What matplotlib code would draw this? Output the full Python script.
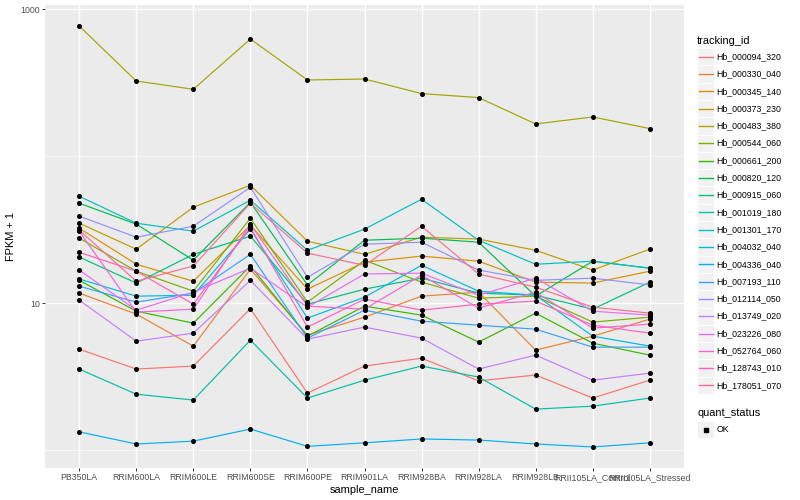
import matplotlib
matplotlib.use("Agg")
import numpy as np
import matplotlib.pyplot as plt
from matplotlib.ticker import FixedLocator, NullFormatter
from matplotlib.patches import Rectangle
from matplotlib.lines import Line2D

plt.rcParams['font.family'] = ['Liberation Sans', 'DejaVu Sans']

sample_names = ["PB350LA", "RRIM600LA", "RRIM600LE", "RRIM600SE", "RRIM600PE",
                "RRIM901LA", "RRIM928BA", "RRIM928LA", "RRIM928LB",
                "RRII105LA_Control", "RRII105LA_Stressed"]

tracking_ids = ["Hb_000094_320", "Hb_000330_040", "Hb_000345_140", "Hb_000373_230",
                "Hb_000483_380", "Hb_000544_060", "Hb_000661_200", "Hb_000820_120",
                "Hb_000915_060", "Hb_001019_180", "Hb_001301_170", "Hb_004032_040",
                "Hb_004336_040", "Hb_007193_110", "Hb_012114_050", "Hb_013749_020",
                "Hb_023226_080", "Hb_052764_060", "Hb_128743_010", "Hb_178051_070"]

colors = ["#F8766D", "#EA8331", "#D89000", "#C09B00", "#A3A500", "#7CAE00", "#39B600",
          "#00BB4E", "#00BF7D", "#00C1A3", "#00BFC4", "#00BAE0", "#00B0F6", "#35A2FF",
          "#9590FF", "#C77CFF", "#E76BF3", "#FA62DB", "#FF62BC", "#FF6C91"]

# FPKM + 1 per tracking id, in sample order
hb_000094_320 = [4.86, 3.56, 3.73, 9.17, 2.44, 3.73, 4.22, 2.96, 3.24, 2.26, 2.99]
hb_000330_040 = [11.7, 8.42, 5.10, 17.0, 6.06, 8.03, 11.16, 11.88, 4.79, 5.96, 7.78]
hb_000345_140 = [32.4, 18.4, 14.1, 33.9, 12.45, 19.0, 20.9, 19.3, 13.9, 13.7, 16.5]
hb_000373_230 = [35.0, 23.3, 45.0, 63.5, 26.4, 21.5, 28.1, 27.3, 22.9, 16.8, 23.3]
hb_000483_380 = [769.6, 325.2, 285.6, 628.0, 330.4, 335.6, 267.0, 250.8, 165.9, 185.1, 154.3]
hb_000544_060 = [27.7, 16.5, 12.07, 37.9, 10.16, 19.6, 13.9, 10.81, 11.16, 7.43, 8.03]
hb_000661_200 = [14.3, 8.82, 7.31, 17.9, 5.96, 9.54, 8.29, 5.43, 8.55, 5.34, 4.43]
hb_000820_120 = [47.9, 34.5, 19.6, 48.6, 13.3, 26.8, 27.7, 26.0, 11.16, 19.3, 17.3]
hb_000915_060 = [20.6, 13.7, 21.5, 28.6, 9.84, 12.45, 14.8, 11.7, 11.33, 9.10, 13.9]
hb_001019_180 = [3.56, 2.40, 2.19, 5.60, 2.26, 2.99, 3.73, 3.14, 1.90, 1.99, 2.26]
hb_001301_170 = [53.4, 35.0, 30.9, 50.2, 22.9, 31.9, 51.0, 26.8, 18.4, 19.3, 17.3]
hb_004032_040 = [14.6, 11.16, 11.33, 31.9, 7.91, 10.98, 18.1, 12.07, 11.33, 5.96, 5.10]
hb_004336_040 = [1.33, 1.10, 1.15, 1.39, 1.06, 1.12, 1.19, 1.17, 1.10, 1.05, 1.12]
hb_007193_110 = [13.05, 10.16, 11.7, 21.5, 5.78, 8.96, 7.54, 7.08, 6.65, 5.02, 5.02]
hb_012114_050 = [39.1, 28.1, 33.4, 61.5, 15.0, 25.2, 26.0, 16.8, 14.3, 14.8, 13.3]
hb_013749_020 = [10.48, 5.51, 6.25, 14.3, 5.69, 6.87, 5.78, 3.56, 4.43, 2.99, 3.34]
hb_023226_080 = [16.8, 8.96, 11.88, 17.3, 9.39, 15.8, 16.0, 11.33, 14.8, 8.82, 8.29]
hb_052764_060 = [30.9, 8.69, 9.10, 34.5, 9.54, 9.10, 15.5, 9.25, 11.88, 6.76, 7.20]
hb_128743_010 = [22.2, 16.5, 9.84, 32.9, 6.87, 10.65, 8.96, 9.84, 10.32, 7.08, 6.25]
hb_178051_070 = [31.4, 14.1, 17.9, 47.9, 21.9, 18.1, 33.4, 15.8, 12.85, 9.39, 8.55]

series = [hb_000094_320, hb_000330_040, hb_000345_140, hb_000373_230, hb_000483_380,
          hb_000544_060, hb_000661_200, hb_000820_120, hb_000915_060, hb_001019_180,
          hb_001301_170, hb_004032_040, hb_004336_040, hb_007193_110, hb_012114_050,
          hb_013749_020, hb_023226_080, hb_052764_060, hb_128743_010, hb_178051_070]

W, H = 800, 500
fig = plt.figure(figsize=(W / 100, H / 100), dpi=100)
fig.patch.set_facecolor("white")
ax = fig.add_axes([45 / W, 32 / H, 639 / W, 463 / H])
ax.set_facecolor("#EBEBEB")
for s in ax.spines.values():
    s.set_visible(False)

x = np.arange(len(sample_names))
for vals, c in zip(series, colors):
    ax.plot(x, vals, color=c, lw=0.85, zorder=3, solid_capstyle="butt")
for vals in series:
    ax.plot(x, vals, ls="none", marker="o", ms=2.6, color="black", zorder=4)

ax.set_yscale("log")
allv = np.concatenate([np.asarray(v) for v in series])
lo, hi = np.log10(allv.min()), np.log10(allv.max())
span = hi - lo
ax.set_ylim(10 ** (lo - 0.05 * span), 10 ** (hi + 0.05 * span))
ax.set_xlim(-0.6, len(sample_names) - 1 + 0.6)

ax.yaxis.set_major_locator(FixedLocator([10, 1000]))
ax.yaxis.set_minor_locator(FixedLocator([1, 100]))
ax.yaxis.set_minor_formatter(NullFormatter())
ax.set_yticks([10, 1000])
ax.set_yticklabels(["10", "1000"])
ax.set_xticks(x)
ax.set_xticklabels(sample_names)

ax.grid(which="major", color="white", lw=1.0, zorder=1)
ax.grid(which="minor", axis="y", color="white", lw=0.5, zorder=1)
ax.set_axisbelow(True)
ax.tick_params(which="major", length=2.0, width=0.7, color="#333333",
               labelsize=6.3, labelcolor="#4D4D4D", pad=1.6)
ax.tick_params(which="minor", length=0)

ax.set_xlabel("sample_name", fontsize=7.9, color="black", labelpad=2)
ax.set_ylabel("FPKM + 1", fontsize=7.9, color="black", labelpad=3)

# legend drawn in pixel space
lax = fig.add_axes([0, 0, 1, 1], zorder=5)
lax.set_xlim(0, W)
lax.set_ylim(H, 0)
lax.axis("off")
lax.patch.set_alpha(0)

lax.text(697, 40.7, "tracking_id", fontsize=7.9, va="center", ha="left")
step = 17.3
y0 = 56.7
for i, (name, c) in enumerate(zip(tracking_ids, colors)):
    yc = y0 + i * step
    lax.add_patch(Rectangle((697, yc - step / 2), step, step, facecolor="#F2F2F2",
                            edgecolor="white", lw=0.7, zorder=1))
    lax.add_line(Line2D([698.7, 712.6], [yc, yc], color=c, lw=1.0, zorder=3))
    lax.text(716.7, yc, name, fontsize=6.3, va="center", ha="left")

lax.text(697, 412.7, "quant_status", fontsize=7.9, va="center", ha="left")
yc = 429.5
lax.add_patch(Rectangle((697, yc - step / 2), step, step, facecolor="#F2F2F2",
                        edgecolor="white", lw=0.7, zorder=1))
lax.plot([705.6], [yc], marker="s", ms=2.3, color="black", ls="none", zorder=3)
lax.text(716.7, yc, "OK", fontsize=6.3, va="center", ha="left")

fig.savefig("out.png", dpi=100)
